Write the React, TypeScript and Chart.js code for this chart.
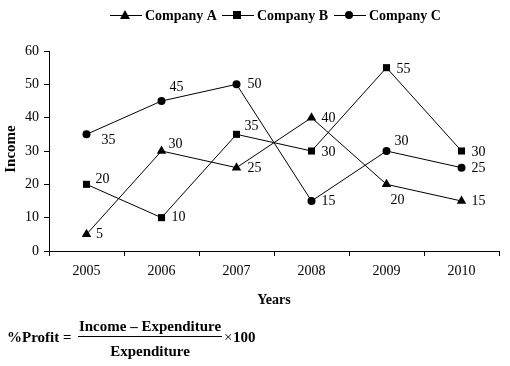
import React, { useEffect, useRef } from "react";
import { Chart, registerables } from "chart.js";

Chart.register(...registerables);

const years = ["2005", "2006", "2007", "2008", "2009", "2010"];
const companyA = [5, 30, 25, 40, 20, 15];
const companyB = [20, 10, 35, 30, 55, 30];
const companyC = [35, 45, 50, 15, 30, 25];
const seriesNames = ["Company A", "Company B", "Company C"];
const yTicks = [0, 10, 20, 30, 40, 50, 60];

// label offsets (dx, dy) relative to each point, per series
const labelOffsetsA = [[13, 0], [14, -7], [18, 1], [17, 1], [11, 16], [17, 0]];
const labelOffsetsB = [[16, -5], [17, 0], [15, -8], [17, 1], [17, 2], [17, 1]];
const labelOffsetsC = [[22, 6], [15, -14], [18, 0], [17, 0], [15, -10], [17, 1]];

const SERIF = "'Liberation Serif', 'Times New Roman', serif";

const drawMarker = (ctx: CanvasRenderingContext2D, style: string, x: number, y: number) => {
  ctx.save();
  ctx.fillStyle = "#000";
  ctx.beginPath();
  if (style === "triangle") {
    ctx.moveTo(x, y - 5);
    ctx.lineTo(x + 5, y + 4);
    ctx.lineTo(x - 5, y + 4);
    ctx.closePath();
  } else if (style === "rect") {
    ctx.rect(x - 4, y - 4, 8, 8);
  } else {
    ctx.arc(x, y, 4, 0, Math.PI * 2);
  }
  ctx.fill();
  ctx.restore();
};

const extrasPlugin = {
  id: "extras",
  afterDatasetsDraw(chart: any) {
    const ctx: CanvasRenderingContext2D = chart.ctx;
    const offsets = [labelOffsetsA, labelOffsetsB, labelOffsetsC];
    ctx.save();
    ctx.fillStyle = "#000";
    ctx.font = `14px ${SERIF}`;
    ctx.textAlign = "center";
    ctx.textBaseline = "middle";
    chart.data.datasets.forEach((ds: any, i: number) => {
      const meta = chart.getDatasetMeta(i);
      meta.data.forEach((pt: any, j: number) => {
        const [dx, dy] = offsets[i][j];
        ctx.fillText(String(ds.data[j]), pt.x + dx, pt.y + dy);
      });
    });
    ctx.restore();
  },
  afterDraw(chart: any) {
    const ctx: CanvasRenderingContext2D = chart.ctx;
    ctx.save();
    ctx.fillStyle = "#000";
    ctx.strokeStyle = "#000";
    // legend
    const styles = ["triangle", "rect", "circle"];
    const legendX = [110, 222, 334];
    const ly = 15;
    ctx.font = `bold 14px ${SERIF}`;
    ctx.textBaseline = "middle";
    ctx.textAlign = "left";
    seriesNames.forEach((name, i) => {
      const x0 = legendX[i];
      ctx.lineWidth = 1;
      ctx.beginPath();
      ctx.moveTo(x0, ly + 0.5);
      ctx.lineTo(x0 + 32, ly + 0.5);
      ctx.stroke();
      drawMarker(ctx, styles[i], x0 + 15, ly);
      ctx.fillText(name, x0 + 35, ly + 1);
    });
    // axis titles
    ctx.textAlign = "center";
    ctx.fillText("Years", 274, 300);
    ctx.save();
    ctx.translate(11, 149);
    ctx.rotate(-Math.PI / 2);
    ctx.font = `bold 15px ${SERIF}`;
    ctx.fillText("Income", 0, 0);
    ctx.restore();
    // formula
    ctx.font = `bold 15px ${SERIF}`;
    ctx.textAlign = "left";
    ctx.fillText("%Profit =", 7, 338);
    ctx.textAlign = "center";
    ctx.fillText("Income \u2013 Expenditure", 150, 327);
    ctx.fillText("Expenditure", 150, 352);
    ctx.lineWidth = 1;
    ctx.beginPath();
    ctx.moveTo(78, 336.5);
    ctx.lineTo(222, 336.5);
    ctx.stroke();
    ctx.textAlign = "left";
    ctx.font = `15px ${SERIF}`;
    ctx.fillText("\u00d7", 224, 338);
    ctx.font = `bold 15px ${SERIF}`;
    ctx.fillText("100", 233, 338);
    ctx.restore();
  },
};

export default function App() {
  const ref = useRef<HTMLCanvasElement | null>(null);
  useEffect(() => {
    if (!ref.current) return;
    const mk = (label: string, data: number[], style: string, radius: number) => ({
      label,
      data,
      borderColor: "#000",
      backgroundColor: "#000",
      borderWidth: 1,
      pointStyle: style,
      pointRadius: radius,
      pointHoverRadius: radius,
      pointBorderWidth: 0,
      pointBackgroundColor: "#000",
      tension: 0,
    });
    const chart = new Chart(ref.current, {
      type: "line",
      data: {
        labels: years,
        datasets: [
          mk(seriesNames[0], companyA, "triangle", 5.5),
          mk(seriesNames[1], companyB, "rect", 5),
          mk(seriesNames[2], companyC, "circle", 4),
        ],
      },
      options: {
        animation: false,
        responsive: false,
        maintainAspectRatio: false,
        events: [],
        layout: { padding: { left: 0, right: 11, top: 51, bottom: 0 } },
        plugins: { legend: { display: false }, tooltip: { enabled: false } },
        scales: {
          x: {
            type: "category",
            offset: true,
            grid: {
              display: true,
              offset: true,
              drawOnChartArea: false,
              drawTicks: true,
              tickLength: 5,
              color: "#000",
            },
            border: { display: true, color: "#000", width: 1 },
            ticks: { color: "#000", font: { family: SERIF, size: 14 }, padding: 7, maxRotation: 0 },
            afterFit: (s: any) => {
              s.height = 115;
            },
          },
          y: {
            min: 0,
            max: 60,
            afterBuildTicks: (s: any) => {
              s.ticks = yTicks.map((v) => ({ value: v }));
            },
            grid: {
              display: true,
              drawOnChartArea: false,
              drawTicks: true,
              tickLength: 5,
              color: "#000",
            },
            border: { display: true, color: "#000", width: 1 },
            ticks: { color: "#000", font: { family: SERIF, size: 14 }, padding: 5 },
            afterFit: (s: any) => {
              s.width = 49;
            },
          },
        },
      },
      plugins: [extrasPlugin],
    });
    return () => chart.destroy();
  }, []);
  return (
    <div style={{ position: "fixed", left: 0, top: 0, width: 510, height: 366, background: "#fff" }}>
      <canvas ref={ref} width={510} height={366} style={{ display: "block", width: 510, height: 366 }} />
    </div>
  );
}
